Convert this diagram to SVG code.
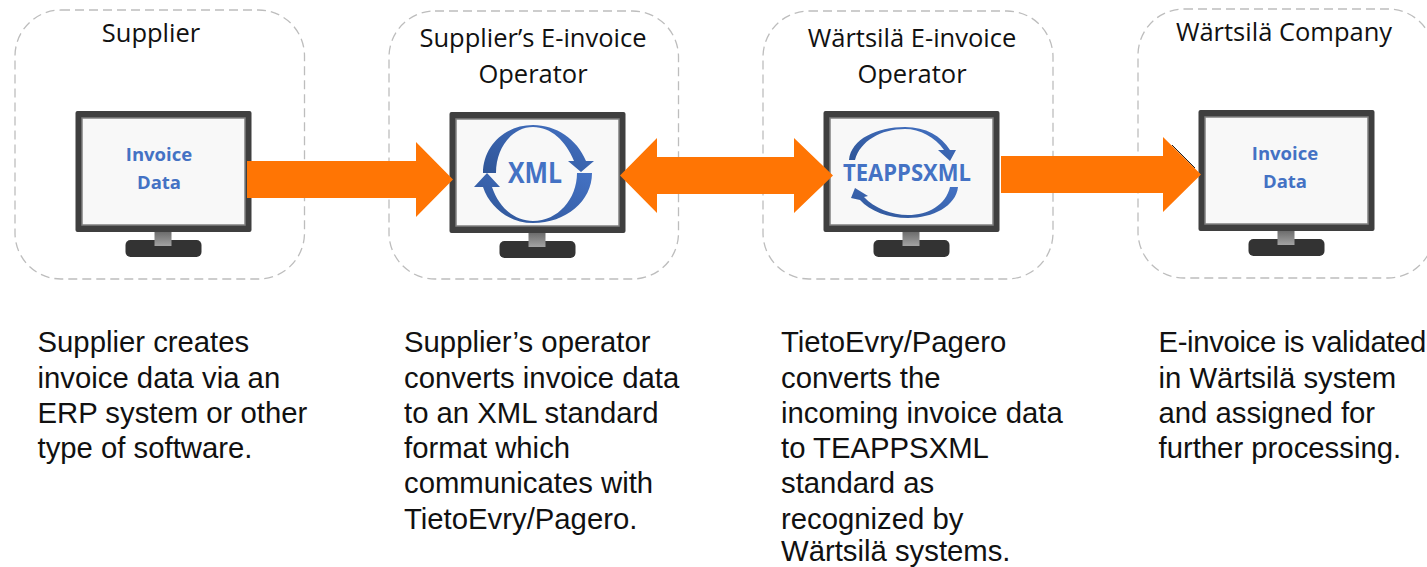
<svg xmlns="http://www.w3.org/2000/svg" width="1427" height="567" viewBox="0 0 1427 567">
<style>
.box{fill:#fff;stroke:#bdbdbd;stroke-width:1.3;stroke-dasharray:9 5}
.title{font-family:"Open Sans","Noto Sans",sans-serif;font-size:25.5px;fill:#111;text-anchor:middle}
.body{font-family:"Liberation Sans",Arial,sans-serif;font-size:29.3px;fill:#111}
.inv{font-family:"Open Sans","Noto Sans",sans-serif;font-weight:700;font-size:18.5px;fill:#4472c4;text-anchor:middle}
.logo{font-family:"Open Sans","Noto Sans",sans-serif;font-weight:700;fill:#4472c4;text-anchor:middle}
.arrow{fill:#ff7504}
.arc{fill:url(#arcfill)}
</style>
<defs>
<linearGradient id="neck" x1="0" y1="0" x2="0" y2="1"><stop offset="0" stop-color="#6d6d6d"/><stop offset="1" stop-color="#a3a3a3"/></linearGradient>
<linearGradient id="arcfill" x1="0" y1="1" x2="1" y2="0"><stop offset="0" stop-color="#2f5597"/><stop offset="1" stop-color="#4472c4"/></linearGradient>
<g id="monitor">
<rect x="0" y="0" width="176" height="121" rx="2" fill="#3f3f3f"/>
<rect x="6.500" y="7" width="163" height="107" fill="#f8f8f8" stroke="#808080" stroke-width="1.500"/>
<rect x="50" y="129" width="76" height="17" rx="5" fill="#333"/>
<rect x="79" y="121" width="17" height="14" fill="url(#neck)"/>
</g>
</defs>

<g id="node-supplier">
<rect class="box" x="15" y="10" width="289.500" height="269" rx="46"/>
<text class="title" x="151" y="42">Supplier</text>
<use href="#monitor" x="75.500" y="111"/>
<text class="inv" x="159" y="161">Invoice</text>
<text class="inv" x="159" y="189">Data</text>
<text class="body"><tspan x="37.500" y="352">Supplier creates</tspan><tspan x="37.500" y="387.500">invoice data via an</tspan><tspan x="37.500" y="422.500">ERP system or other</tspan><tspan x="37.500" y="458">type of software.</tspan></text>
</g>

<g id="node-supplier-operator">
<rect class="box" x="389" y="11" width="289.500" height="268" rx="46"/>
<text class="title"><tspan x="533" y="47">Supplier’s E-invoice</tspan><tspan x="533" y="83">Operator</tspan></text>
<use href="#monitor" x="449.500" y="112"/>
<path class="arc" d="M483 173C483 146 505 125 533 125C556 125 577 139 586 161H594L581 172L568 161H574C566 141 551 127 533 127C512 127 496 148 496 173Z"/>
<path class="arc" d="M592 173C592 201 566 223 533 223C510 223 490 208 483 187H474L487 173L500 187H492C499 208 515 221 533 221C558 221 577 199 577 173Z"/>
<text class="logo" x="535" y="183" font-size="28" textLength="54" lengthAdjust="spacingAndGlyphs">XML</text>
<text class="body"><tspan x="404" y="352">Supplier’s operator</tspan><tspan x="404" y="387.500">converts invoice data</tspan><tspan x="404" y="422.500">to an XML standard</tspan><tspan x="404" y="458">format which</tspan><tspan x="404" y="493">communicates with</tspan><tspan x="404" y="528.500">TietoEvry/Pagero.</tspan></text>
</g>

<g id="node-wartsila-operator">
<rect class="box" x="763" y="11" width="290" height="268" rx="46"/>
<text class="title"><tspan x="912" y="47">Wärtsilä E-invoice</tspan><tspan x="912" y="83">Operator</tspan></text>
<use href="#monitor" x="823.500" y="111"/>
<path class="arc" d="M849 160C851 139 877 127 905 127C926 127 941 136 950 150H956L950 161L938 150H944C935 137 920 129 905 129C881 129 860 141 855 160Z"/>
<path class="arc" d="M958 187C956 206 933 218 908 218C888 218 870 211 860 200L851 198L855 188L868 196L864 197C874 208 892 215 908 215C928 215 946 205 950 187Z"/>
<text class="logo" x="907" y="181" font-size="23.500" textLength="128" lengthAdjust="spacingAndGlyphs">TEAPPSXML</text>
<text class="body"><tspan x="781" y="352">TietoEvry/Pagero</tspan><tspan x="781" y="387.500">converts the</tspan><tspan x="781" y="422.500">incoming invoice data</tspan><tspan x="781" y="458">to TEAPPSXML</tspan><tspan x="781" y="493">standard as</tspan><tspan x="781" y="528.500">recognized by</tspan><tspan x="781" y="560.500">Wärtsilä systems.</tspan></text>
</g>

<g id="node-wartsila-company">
<rect class="box" x="1138" y="9" width="296" height="269" rx="46"/>
<text class="title" x="1284" y="41">Wärtsilä Company</text>
<use href="#monitor" x="1198.500" y="110"/>
<text class="inv" x="1285" y="160">Invoice</text>
<text class="inv" x="1285" y="188">Data</text>
<text class="body"><tspan x="1158.500" y="352" letter-spacing="-0.350">E-invoice is validated</tspan><tspan x="1158.500" y="387.500">in Wärtsilä system</tspan><tspan x="1158.500" y="422.500">and assigned for</tspan><tspan x="1158.500" y="458">further processing.</tspan></text>
</g>

<g id="connectors">
<path class="arrow" d="M247 161H416V142L453 179.500L416 217V198H247Z"/>
<path class="arrow" d="M620 175.500L657 138V157H794V138L833 175.500L794 213V194H657V213Z"/>
<path class="arrow" d="M1001 156H1163V137L1201 174.500L1163 212V193H1001Z"/>
<path d="M1172 145L1195 168" fill="none" stroke="#222" stroke-width="1"/>
</g>
</svg>
